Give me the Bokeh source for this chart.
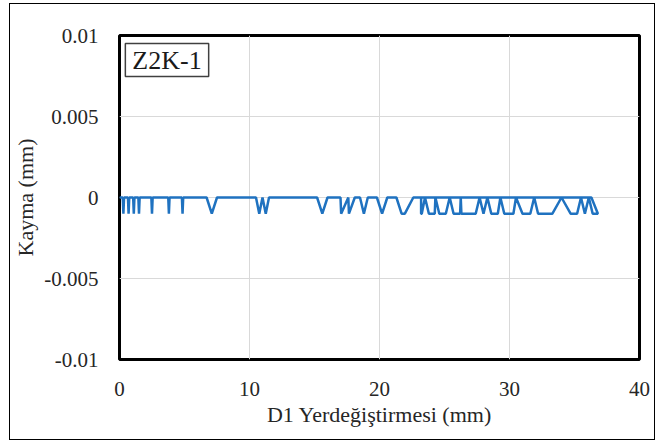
from bokeh.plotting import figure
from bokeh.models import FixedTicker, Label, ColumnDataSource
from bokeh.embed import file_html
from bokeh.resources import INLINE

# D1 displacement (mm) and slip (mm)
x_disp = [0, 0.25, 0.3, 0.35, 0.65, 0.7, 0.75, 1.05, 1.1, 1.15, 1.45, 1.5, 1.55,
          2.45, 2.5, 2.55, 3.75, 3.8, 3.85, 4.8, 4.85, 4.9,
          6.7, 7.1, 7.5,
          10.5, 10.75, 11.0, 11.25, 11.5,
          15.2, 15.6, 16.0,
          17.0, 17.05, 17.6, 17.65, 18.1,
          18.5, 18.8, 19.1,
          19.8, 20.2, 20.6,
          21.3, 21.7, 21.95, 22.6,
          36.3, 36.8, 36.4, 36.1, 35.8, 35.5, 35.2, 34.7, 34.0, 33.3,
          32.2, 31.9, 31.6, 31.0, 30.5, 30.3, 29.6, 29.3, 29.1, 28.6,
          28.3, 28.0, 27.7, 27.4, 26.3, 26.25, 26.2, 25.7, 25.4, 25.1,
          24.6, 24.3, 24.25, 23.8, 23.5, 23.25, 23.2, 23.2]
slip = [0, 0, -0.001, 0, 0, -0.001, 0, 0, -0.001, 0, 0, -0.001, 0,
        0, -0.001, 0, 0, -0.001, 0, 0, -0.001, 0,
        0, -0.001, 0,
        0, -0.001, 0, -0.001, 0,
        0, -0.001, 0,
        0, -0.001, 0, -0.001, 0,
        0, -0.001, 0,
        0, -0.001, 0,
        0, -0.001, -0.001, 0,
        0, -0.001, -0.001, 0, -0.001, 0, -0.001, -0.001, 0, -0.001,
        -0.001, 0, -0.001, -0.001, 0, -0.001, -0.001, 0, -0.001, -0.001,
        0, -0.001, 0, -0.001, -0.001, 0, -0.001, -0.001, 0, -0.001,
        -0.001, 0, -0.001, -0.001, 0, -0.001, -0.001, 0]

x_ticks = [0, 10, 20, 30, 40]
y_ticks = [-0.01, -0.005, 0, 0.005, 0.01]
y_tick_labels = ["-0.01", "-0.005", "0", "0.005", "0.01"]
panel_label = "Z2K-1"
x_title = "D1 Yerdeğiştirmesi (mm)"
y_title = "Kayma (mm)"

FONT = "'Liberation Serif', 'Times New Roman', serif"

p = figure(width=646, height=437, x_range=(0, 40), y_range=(-0.01, 0.01),
           output_backend="svg", toolbar_location=None,
           min_border_left=109, min_border_right=17, min_border_top=31,
           min_border_bottom=82)
p.styles = {"border": "1px solid black"}
p.margin = (3, 0, 0, 9)
p.background_fill_color = "white"
p.border_fill_color = "white"
p.outline_line_color = "black"
p.outline_line_width = 3

p.xaxis.ticker = FixedTicker(ticks=x_ticks)
p.yaxis.ticker = FixedTicker(ticks=y_ticks)
p.yaxis.major_label_overrides = {t: l for t, l in zip(y_ticks, y_tick_labels)}
p.xgrid.ticker = FixedTicker(ticks=x_ticks)
p.ygrid.ticker = FixedTicker(ticks=y_ticks)
for g in (p.xgrid, p.ygrid):
    g.grid_line_color = "#d9d9d9"
    g.grid_line_width = 1

for ax in (p.xaxis, p.yaxis):
    ax.axis_line_color = None
    ax.major_tick_line_color = None
    ax.minor_tick_line_color = None
    ax.major_label_text_font = FONT
    ax.major_label_text_font_size = "21px"
    ax.major_label_text_color = "#262626"
    ax.axis_label_text_font = FONT
    ax.axis_label_text_font_size = "22px"
    ax.axis_label_text_font_style = "normal"
    ax.axis_label_text_color = "#262626"

p.xaxis.axis_label = x_title
p.yaxis.axis_label = y_title
p.xaxis.major_label_standoff = 16
p.xaxis.axis_label_standoff = 3
p.yaxis.major_label_standoff = 15
p.yaxis.axis_label_standoff = 3

src = ColumnDataSource(data=dict(x=x_disp, y=slip))
p.line("x", "y", source=src, line_color="#1F72C0", line_width=2.5)

lbl = Label(x=0.45, y=0.0095, text=panel_label, anchor="top_left",
            text_font=FONT, text_font_size="26px", text_color="#1a1a1a",
            border_line_color="#404040", border_line_width=1.5,
            background_fill_color="white", padding=(7, 2))
p.add_layout(lbl)

open("out.html", "w").write(file_html(p, INLINE))
